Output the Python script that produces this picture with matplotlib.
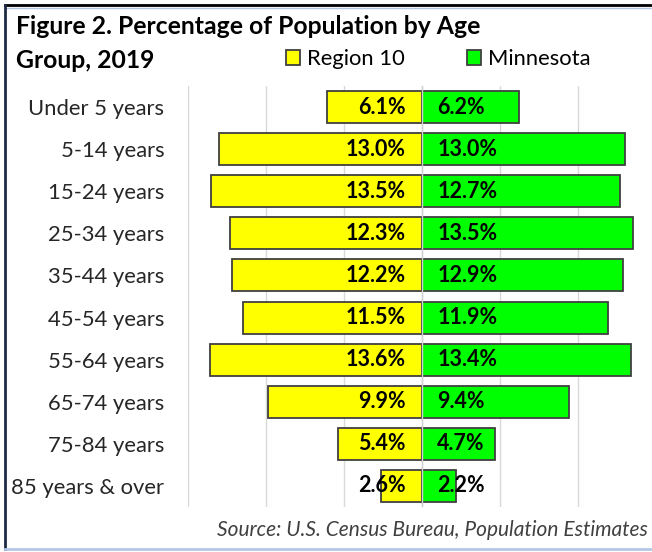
import numpy as np
import matplotlib.pyplot as plt
from matplotlib.lines import Line2D

age_groups = ['Under 5 years', '5-14 years', '15-24 years', '25-34 years', '35-44 years',
              '45-54 years', '55-64 years', '65-74 years', '75-84 years', '85 years & over']
region10 = [6.1, 13.0, 13.5, 12.3, 12.2, 11.5, 13.6, 9.9, 5.4, 2.6]
minnesota = [6.2, 13.0, 12.7, 13.5, 12.9, 11.9, 13.4, 9.4, 4.7, 2.2]

plt.rcParams['font.family'] = ['Lato', 'DejaVu Sans']

W, H = 652, 552
fig = plt.figure(figsize=(W / 100, H / 100), dpi=100)

# axes placed in pixel terms
left_px, right_px, top_px, bottom_px = 188, 656, 86, 507
ax = fig.add_axes([left_px / W, (H - bottom_px) / H, (right_px - left_px) / W, (bottom_px - top_px) / H])

y = np.arange(len(age_groups))
edge = '#404040'
bars_r = ax.barh(y, -np.array(region10), height=0.76, color='#ffff00', edgecolor=edge, linewidth=1.3,
                 label='Region 10', zorder=2)
bars_m = ax.barh(y, minnesota, height=0.76, color='#00ff00', edgecolor=edge, linewidth=1.3,
                 label='Minnesota', zorder=2)

for i in range(len(age_groups)):
    ax.annotate(f'{region10[i]:.1f}%', (0, y[i]), xytext=(-11.5, 0), textcoords='offset points',
                ha='right', va='center', fontsize=15.5, fontweight='bold', zorder=4)
    ax.annotate(f'{minnesota[i]:.1f}%', (0, y[i]), xytext=(11, 0), textcoords='offset points',
                ha='left', va='center', fontsize=15.5, fontweight='bold', zorder=4)

ax.set_xlim(-15, 15)
ax.set_ylim(len(age_groups) - 0.5, -0.5)
ax.set_xticks(np.arange(-15, 16, 5))
ax.xaxis.grid(True, color='#d9d9d9', linewidth=1)
ax.set_axisbelow(True)
ax.axvline(0, color='#d0d0d0', linewidth=1, zorder=3)
ax.tick_params(axis='x', bottom=False, labelbottom=False)
ax.set_yticks(y)
ax.set_yticklabels(age_groups, fontsize=15.8, color='#262626')
ax.tick_params(axis='y', length=0, pad=17)
for s in ax.spines.values():
    s.set_visible(False)

fig.text(16 / W, 1 - 27 / H, 'Figure 2. Percentage of Population by Age', fontsize=17.8, fontweight='bold',
         ha='left', va='center')
fig.text(16 / W, 1 - 60 / H, 'Group, 2019', fontsize=17.8, fontweight='bold', ha='left', va='center')

fig.legend(handles=[bars_r, bars_m], loc='center left', bbox_to_anchor=(266 / W, 1 - 59 / H), ncol=2,
           frameon=False, fontsize=15.8, handlelength=0.65, handleheight=0.65, handletextpad=0.3,
           columnspacing=2.85)

fig.text(648 / W, 1 - 530 / H, 'Source: U.S. Census Bureau, Population Estimates', fontsize=15,
         style='italic', color='#404040', ha='right', va='center')

# outer frame
fig.add_artist(Line2D([5 / W, 1], [1 - 5 / H, 1 - 5 / H], color='black', linewidth=2))
fig.add_artist(Line2D([5 / W, 1], [1 - 7.5 / H, 1 - 7.5 / H], color='#b4c7e7', linewidth=1))
fig.add_artist(Line2D([5 / W, 5 / W], [1 - 5 / H, 1 - 549 / H], color='#1f2a44', linewidth=2))
fig.add_artist(Line2D([5 / W, 1], [1 - 549 / H, 1 - 549 / H], color='#b4c7e7', linewidth=2))

fig.savefig('out.png', dpi=100)
